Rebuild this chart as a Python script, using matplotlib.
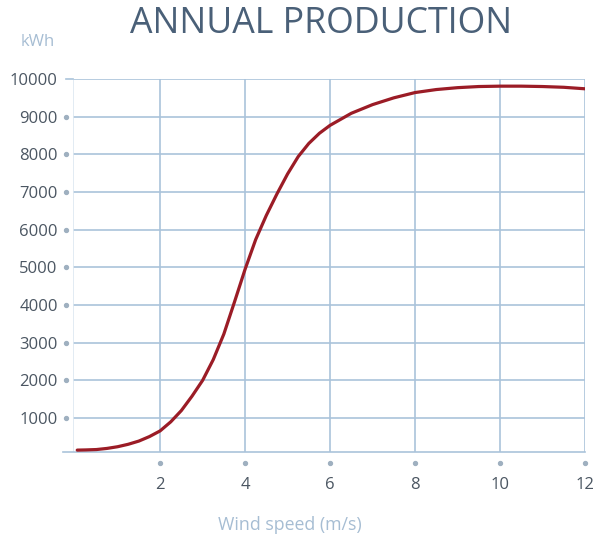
import matplotlib
matplotlib.use("Agg")
import matplotlib.pyplot as plt
from matplotlib.lines import Line2D

# values
wind_speed = [0.05, 0.25, 0.5, 0.75, 1.0, 1.25, 1.5, 1.75, 2.0, 2.25, 2.5, 2.75,
              3.0, 3.25, 3.5, 3.75, 4.0, 4.25, 4.5, 4.75, 5.0, 5.25, 5.5, 5.75,
              6.0, 6.5, 7.0, 7.5, 8.0, 8.5, 9.0, 9.5, 10.0, 10.5, 11.0, 11.5, 12.0]
production = [150, 155, 165, 195, 240, 305, 390, 510, 660, 900, 1200, 1580,
              2000, 2550, 3230, 4080, 4950, 5740, 6380, 6950, 7480, 7940, 8290, 8560,
              8770, 9090, 9320, 9500, 9640, 9720, 9770, 9800, 9810, 9810, 9800, 9780, 9740]
x_ticks = [2, 4, 6, 8, 10, 12]
y_ticks = [1000, 2000, 3000, 4000, 5000, 6000, 7000, 8000, 9000, 10000]

GRID = "#aac3da"
TICK = "#4b5662"
LIGHT = "#a6bdd3"

plt.rcParams["font.family"] = ["Open Sans", "DejaVu Sans"]

fig = plt.figure(figsize=(6.09, 5.43), dpi=100)
ax = fig.add_axes([73 / 609, 1 - 452 / 543, 512 / 609, 373 / 543])
ax.set_xlim(-0.05, 12)
ax.set_ylim(100, 10000)

for s in ax.spines.values():
    s.set_visible(False)
ax.set_xticks(x_ticks)
ax.set_yticks(y_ticks)
ax.tick_params(length=0, labelsize=12, labelcolor=TICK)
ax.tick_params(axis="x", pad=18)
ax.tick_params(axis="y", pad=11)
ax.grid(True, color=GRID, linewidth=1.2)
ax.set_axisbelow(True)

# faint left edge, bottom line and extended top line
ax.axvline(-0.05, color="#dde8f1", linewidth=1.2)
ax.add_line(Line2D([-0.02, 1], [0, 0], transform=ax.transAxes, color=GRID,
                   linewidth=1.2, clip_on=False))
ax.add_line(Line2D([-0.014, 0], [1, 1], transform=ax.transAxes, color=GRID,
                   linewidth=1.2, clip_on=False))

# dot ticks
ax.scatter(x_ticks, [-0.03] * len(x_ticks), s=8, color="#9fb0c0",
           transform=ax.get_xaxis_transform(), clip_on=False, zorder=3)
ax.scatter([-0.014] * (len(y_ticks) - 1), y_ticks[:-1], s=8, color="#9fb0c0",
           transform=ax.get_yaxis_transform(), clip_on=False, zorder=3)

ax.plot(wind_speed, production, color="#9b1c26", linewidth=2.3,
        solid_capstyle="round", solid_joinstyle="round", zorder=4)

fig.text(321.5 / 609, 1 - 24 / 543, "ANNUAL PRODUCTION", ha="center",
         va="center", fontsize=25.7, color="#4a6078")
fig.text(38 / 609, 1 - 42 / 543, "kWh", ha="center", va="center",
         fontsize=12, color=LIGHT)
fig.text(290 / 609, 1 - 525 / 543, "Wind speed (m/s)", ha="center",
         va="center", fontsize=12.8, color=LIGHT)

fig.savefig("out.png", dpi=100)
